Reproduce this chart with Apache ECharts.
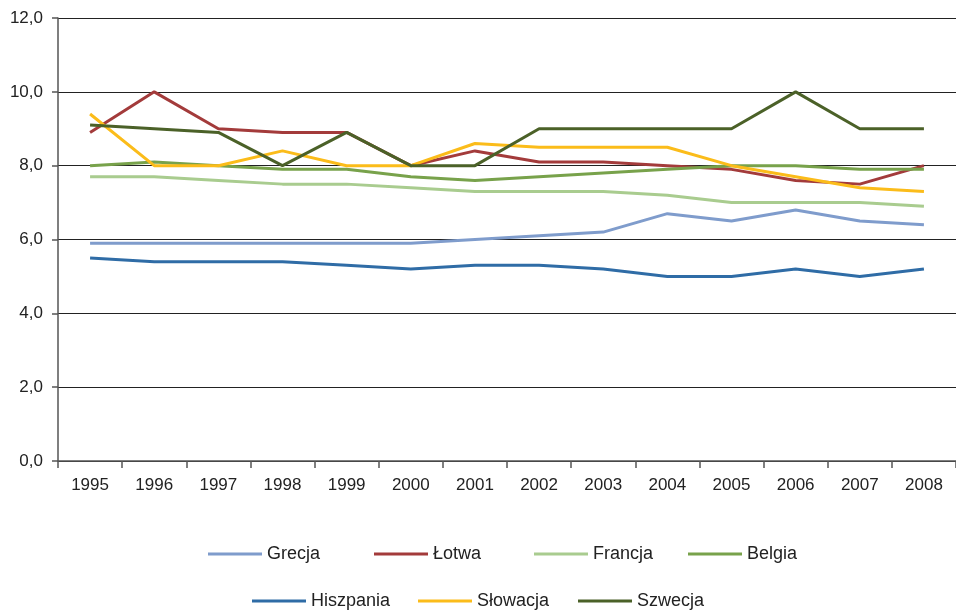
<!DOCTYPE html>
<html>
<head>
<meta charset="utf-8">
<script src="https://cdn.jsdelivr.net/npm/echarts@6/dist/echarts.min.js"></script>
<style>
  html, body { margin: 0; padding: 0; background: #ffffff; }
  #chart { width: 956px; height: 612px; }
</style>
</head>
<body>
<div id="chart"></div>
<script>
// Years on the category axis
const years = ['1995','1996','1997','1998','1999','2000','2001','2002','2003','2004','2005','2006','2007','2008'];

// Values per country
const grecja    = [5.9, 5.9, 5.9, 5.9, 5.9, 5.9, 6.0, 6.1, 6.2, 6.7, 6.5, 6.8, 6.5, 6.4];
const lotwa     = [8.9, 10.0, 9.0, 8.9, 8.9, 8.0, 8.4, 8.1, 8.1, 8.0, 7.9, 7.6, 7.5, 8.0];
const francja   = [7.7, 7.7, 7.6, 7.5, 7.5, 7.4, 7.3, 7.3, 7.3, 7.2, 7.0, 7.0, 7.0, 6.9];
const belgia    = [8.0, 8.1, 8.0, 7.9, 7.9, 7.7, 7.6, 7.7, 7.8, 7.9, 8.0, 8.0, 7.9, 7.9];
const hiszpania = [5.5, 5.4, 5.4, 5.4, 5.3, 5.2, 5.3, 5.3, 5.2, 5.0, 5.0, 5.2, 5.0, 5.2];
const slowacja  = [9.4, 8.0, 8.0, 8.4, 8.0, 8.0, 8.6, 8.5, 8.5, 8.5, 8.0, 7.7, 7.4, 7.3];
const szwecja   = [9.1, 9.0, 8.9, 8.0, 8.9, 8.0, 8.0, 9.0, 9.0, 9.0, 9.0, 10.0, 9.0, 9.0];

// Y axis tick values
const yTicks = [0, 2, 4, 6, 8, 10, 12];

const FONT = '"Liberation Sans", Arial, sans-serif';

// Two legend rows, each entry placed on its own
const seriesDefs = [
  { name: 'Grecja',    data: grecja,    color: '#7f9ccc', legend: { left: 208, top: 545 } },
  { name: 'Łotwa',     data: lotwa,     color: '#a33b3b', legend: { left: 374, top: 545 } },
  { name: 'Francja',   data: francja,   color: '#a9cc8f', legend: { left: 534, top: 545 } },
  { name: 'Belgia',    data: belgia,    color: '#78a24b', legend: { left: 688, top: 545 } },
  { name: 'Hiszpania', data: hiszpania, color: '#2f6ca6', legend: { left: 252, top: 592 } },
  { name: 'Słowacja',  data: slowacja,  color: '#fbbc1a', legend: { left: 418, top: 592 } },
  { name: 'Szwecja',   data: szwecja,   color: '#4b6128', legend: { left: 578, top: 592 } }
];

const chart = echarts.init(document.getElementById('chart'), null, { renderer: 'canvas' });

chart.setOption({
  backgroundColor: '#ffffff',
  animation: false,
  grid: { left: 58, right: 0, top: 18, bottom: 151, containLabel: false },
  legend: seriesDefs.map(s => ({
    data: [s.name],
    left: s.legend.left,
    top: s.legend.top,
    padding: 0,
    icon: 'rect',
    itemWidth: 54,
    itemHeight: 3,
    textStyle: { fontFamily: FONT, fontSize: 18, color: '#222' },
    selectedMode: false
  })),
  xAxis: {
    type: 'category',
    data: years,
    boundaryGap: true,
    axisLine: { lineStyle: { color: '#555', width: 1.5 } },
    axisTick: { show: true, length: 7, lineStyle: { color: '#555', width: 1.5 } },
    axisLabel: { fontFamily: FONT, fontSize: 17, color: '#222', margin: 16 },
    splitLine: { show: false }
  },
  yAxis: {
    type: 'value',
    min: yTicks[0],
    max: yTicks[yTicks.length - 1],
    interval: 2,
    axisLine: { show: true, lineStyle: { color: '#555', width: 1.5 } },
    axisTick: { show: true, length: 6, lineStyle: { color: '#555', width: 1.5 } },
    axisLabel: {
      fontFamily: FONT, fontSize: 17, color: '#222', margin: 15,
      formatter: v => v.toFixed(1).replace('.', ',')
    },
    splitLine: { show: true, lineStyle: { color: '#222', width: 1 } }
  },
  series: seriesDefs.map(s => ({
    name: s.name,
    type: 'line',
    data: s.data,
    showSymbol: false,
    symbol: 'none',
    lineStyle: { color: s.color, width: 3 },
    itemStyle: { color: s.color },
    emphasis: { disabled: true }
  }))
});
</script>
</body>
</html>
